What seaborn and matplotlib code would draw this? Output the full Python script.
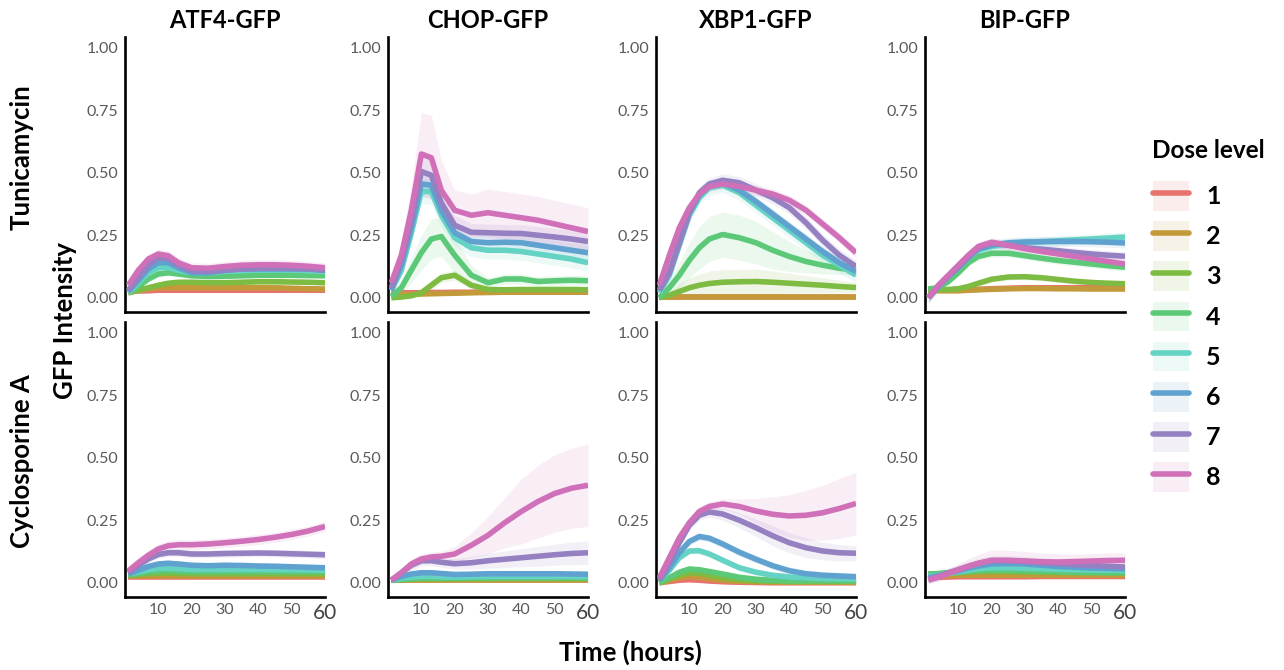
import numpy as np
import pandas as pd
import matplotlib
matplotlib.use("Agg")
import matplotlib.pyplot as plt
import seaborn as sns
from matplotlib.patches import Patch
from matplotlib.lines import Line2D

sns.set_theme(style="white")
plt.rcParams["font.family"] = ["Lato", "DejaVu Sans"]
plt.rcParams["text.color"] = "black"

# ---------------- data ----------------
TIME = [1, 4, 7, 10, 13, 16, 20, 25, 30, 35, 40, 45, 50, 55, 60]
GENES = ["ATF4-GFP", "CHOP-GFP", "XBP1-GFP", "BIP-GFP"]
TREATMENTS = ["Tunicamycin", "Cyclosporine A"]
DOSES = [1, 2, 3, 4, 5, 6, 7, 8]
COLORS = ["#E8736E", "#C39A3A", "#7DBB42", "#5CC978", "#64D3C4",
          "#5FA2D0", "#9580C2", "#D070B8"]
X_TICKS = [10, 20, 30, 40, 50, 60]
Y_TICKS = [0.0, 0.25, 0.5, 0.75, 1.0]
Y_TICK_LABELS = ["0.00", "0.25", "0.50", "0.75", "1.00"]

# mean curves (one list per dose 1..8)
ATF4_TUN = [
    [0.025, 0.027, 0.028, 0.03, 0.03, 0.03, 0.03, 0.03, 0.03, 0.03, 0.03, 0.03, 0.03, 0.03, 0.03],
    [0.02, 0.03, 0.035, 0.04, 0.04, 0.04, 0.04, 0.04, 0.04, 0.04, 0.04, 0.04, 0.038, 0.036, 0.035],
    [0.02, 0.03, 0.04, 0.05, 0.058, 0.062, 0.062, 0.06, 0.06, 0.062, 0.064, 0.064, 0.063, 0.062, 0.06],
    [0.02, 0.045, 0.075, 0.095, 0.1, 0.095, 0.088, 0.085, 0.086, 0.088, 0.09, 0.09, 0.09, 0.089, 0.088],
    [0.02, 0.06, 0.1, 0.12, 0.12, 0.11, 0.1, 0.1, 0.105, 0.108, 0.11, 0.11, 0.11, 0.108, 0.105],
    [0.025, 0.07, 0.115, 0.14, 0.14, 0.12, 0.1, 0.1, 0.11, 0.115, 0.115, 0.115, 0.115, 0.115, 0.11],
    [0.03, 0.08, 0.13, 0.16, 0.155, 0.13, 0.108, 0.105, 0.11, 0.115, 0.118, 0.118, 0.118, 0.115, 0.11],
    [0.05, 0.11, 0.155, 0.175, 0.168, 0.14, 0.12, 0.118, 0.125, 0.13, 0.132, 0.132, 0.13, 0.126, 0.12],
]
CHOP_TUN = [
    [0.02, 0.02, 0.02, 0.02, 0.021, 0.021, 0.022, 0.022, 0.023, 0.023, 0.024, 0.024, 0.025, 0.025, 0.025],
    [0.012, 0.013, 0.014, 0.015, 0.016, 0.017, 0.018, 0.02, 0.021, 0.022, 0.022, 0.022, 0.022, 0.022, 0.022],
    [0.0, 0.003, 0.008, 0.02, 0.05, 0.08, 0.09, 0.05, 0.033, 0.032, 0.033, 0.033, 0.033, 0.033, 0.032],
    [0.005, 0.04, 0.11, 0.18, 0.235, 0.245, 0.17, 0.09, 0.06, 0.075, 0.075, 0.065, 0.068, 0.07, 0.068],
    [0.03, 0.11, 0.26, 0.425, 0.425, 0.33, 0.24, 0.2, 0.19, 0.19, 0.185, 0.175, 0.165, 0.155, 0.14],
    [0.03, 0.13, 0.28, 0.455, 0.45, 0.35, 0.26, 0.225, 0.22, 0.222, 0.22, 0.21, 0.2, 0.19, 0.18],
    [0.04, 0.15, 0.31, 0.505, 0.49, 0.38, 0.29, 0.262, 0.26, 0.258, 0.257, 0.25, 0.243, 0.235, 0.225],
    [0.06, 0.17, 0.35, 0.575, 0.56, 0.43, 0.35, 0.33, 0.34, 0.33, 0.32, 0.31, 0.295, 0.28, 0.265],
]
XBP1_TUN = [
    [0.002] * 15,
    [0.003] * 15,
    [0.0, 0.01, 0.025, 0.04, 0.05, 0.057, 0.062, 0.064, 0.065, 0.062, 0.058, 0.054, 0.05, 0.045, 0.041],
    [0.0, 0.04, 0.09, 0.15, 0.2, 0.235, 0.253, 0.24, 0.22, 0.19, 0.165, 0.145, 0.13, 0.118, 0.11],
    [0.02, 0.09, 0.21, 0.33, 0.4, 0.44, 0.45, 0.42, 0.37, 0.32, 0.27, 0.22, 0.17, 0.13, 0.09],
    [0.03, 0.1, 0.22, 0.34, 0.41, 0.45, 0.46, 0.43, 0.385, 0.335, 0.285, 0.235, 0.185, 0.14, 0.105],
    [0.03, 0.1, 0.22, 0.34, 0.42, 0.455, 0.47, 0.46, 0.43, 0.4, 0.36, 0.3, 0.23, 0.17, 0.125],
    [0.05, 0.17, 0.28, 0.36, 0.415, 0.445, 0.455, 0.445, 0.43, 0.415, 0.39, 0.35, 0.295, 0.24, 0.18],
]
BIP_TUN = [
    [0.03, 0.03, 0.03, 0.03, 0.032, 0.034, 0.036, 0.038, 0.04, 0.04, 0.04, 0.04, 0.04, 0.04, 0.04],
    [0.03, 0.028, 0.028, 0.028, 0.03, 0.032, 0.034, 0.036, 0.037, 0.037, 0.036, 0.036, 0.035, 0.035, 0.035],
    [0.035, 0.033, 0.033, 0.036, 0.045, 0.058, 0.074, 0.083, 0.084, 0.08, 0.073, 0.066, 0.061, 0.058, 0.056],
    [0.035, 0.04, 0.065, 0.1, 0.14, 0.165, 0.178, 0.178, 0.168, 0.158, 0.149, 0.142, 0.135, 0.128, 0.122],
    [0.0, 0.045, 0.085, 0.12, 0.16, 0.19, 0.205, 0.215, 0.222, 0.225, 0.228, 0.232, 0.235, 0.239, 0.243],
    [0.0, 0.045, 0.085, 0.12, 0.16, 0.195, 0.21, 0.22, 0.223, 0.224, 0.225, 0.225, 0.224, 0.222, 0.219],
    [0.0, 0.045, 0.085, 0.125, 0.165, 0.2, 0.218, 0.21, 0.2, 0.194, 0.188, 0.181, 0.175, 0.17, 0.166],
    [0.0, 0.05, 0.09, 0.13, 0.17, 0.205, 0.222, 0.21, 0.196, 0.185, 0.175, 0.165, 0.155, 0.145, 0.135],
]
ATF4_CSA = [
    [0.025] * 15,
    [0.028] * 15,
    [0.03, 0.033, 0.036, 0.038, 0.038, 0.037, 0.036, 0.036, 0.036, 0.036, 0.036, 0.036, 0.036, 0.036, 0.036],
    [0.03, 0.037, 0.043, 0.047, 0.048, 0.046, 0.044, 0.044, 0.044, 0.044, 0.044, 0.044, 0.044, 0.044, 0.044],
    [0.035, 0.043, 0.052, 0.058, 0.058, 0.056, 0.053, 0.053, 0.053, 0.053, 0.053, 0.052, 0.052, 0.051, 0.05],
    [0.035, 0.05, 0.065, 0.075, 0.078, 0.075, 0.07, 0.068, 0.07, 0.069, 0.067, 0.066, 0.064, 0.062, 0.06],
    [0.04, 0.07, 0.095, 0.113, 0.12, 0.12, 0.115, 0.115, 0.117, 0.118, 0.119, 0.118, 0.116, 0.114, 0.112],
    [0.047, 0.08, 0.11, 0.135, 0.148, 0.152, 0.152, 0.155, 0.16, 0.166, 0.173, 0.182, 0.193, 0.207, 0.225],
]
CHOP_CSA = [
    [0.01] * 15,
    [0.012] * 15,
    [0.01, 0.012, 0.014, 0.015, 0.015, 0.015, 0.015, 0.016, 0.016, 0.016, 0.016, 0.016, 0.016, 0.016, 0.016],
    [0.01, 0.013, 0.016, 0.018, 0.018, 0.018, 0.018, 0.019, 0.02, 0.02, 0.02, 0.02, 0.02, 0.02, 0.02],
    [0.012, 0.018, 0.022, 0.025, 0.025, 0.024, 0.023, 0.024, 0.025, 0.025, 0.025, 0.025, 0.025, 0.025, 0.024],
    [0.012, 0.025, 0.035, 0.04, 0.04, 0.037, 0.033, 0.034, 0.036, 0.036, 0.036, 0.036, 0.036, 0.035, 0.034],
    [0.01, 0.04, 0.07, 0.088, 0.088, 0.082, 0.076, 0.08, 0.088, 0.094, 0.1, 0.106, 0.112, 0.117, 0.12],
    [0.01, 0.04, 0.075, 0.095, 0.103, 0.106, 0.115, 0.15, 0.19, 0.24, 0.285, 0.325, 0.357, 0.378, 0.39],
]
XBP1_CSA = [
    [0.0, 0.005, 0.01, 0.012, 0.01, 0.007, 0.004, 0.002, 0.001, 0.0, 0.0, 0.0, 0.0, 0.0, 0.0],
    [0.0, 0.01, 0.02, 0.025, 0.022, 0.016, 0.01, 0.006, 0.004, 0.003, 0.002, 0.002, 0.002, 0.002, 0.002],
    [0.0, 0.015, 0.03, 0.04, 0.038, 0.03, 0.02, 0.012, 0.008, 0.006, 0.005, 0.005, 0.005, 0.005, 0.005],
    [0.0, 0.02, 0.042, 0.055, 0.052, 0.045, 0.035, 0.022, 0.014, 0.01, 0.008, 0.008, 0.008, 0.008, 0.008],
    [0.01, 0.05, 0.1, 0.127, 0.128, 0.115, 0.09, 0.06, 0.042, 0.03, 0.023, 0.02, 0.017, 0.016, 0.015],
    [0.01, 0.06, 0.12, 0.165, 0.185, 0.178, 0.155, 0.122, 0.094, 0.068, 0.048, 0.036, 0.03, 0.027, 0.024],
    [0.01, 0.08, 0.16, 0.23, 0.27, 0.283, 0.275, 0.25, 0.22, 0.188, 0.16, 0.14, 0.127, 0.12, 0.118],
    [0.02, 0.1, 0.18, 0.24, 0.285, 0.305, 0.315, 0.305, 0.287, 0.274, 0.267, 0.27, 0.28, 0.297, 0.317],
]
BIP_CSA = [
    [0.02, 0.022, 0.023, 0.024, 0.024, 0.024, 0.024, 0.024, 0.024, 0.025, 0.025, 0.025, 0.025, 0.025, 0.025],
    [0.025, 0.027, 0.028, 0.03, 0.03, 0.03, 0.03, 0.03, 0.03, 0.03, 0.03, 0.03, 0.03, 0.03, 0.03],
    [0.035, 0.036, 0.038, 0.04, 0.042, 0.044, 0.045, 0.044, 0.043, 0.042, 0.041, 0.04, 0.04, 0.04, 0.04],
    [0.035, 0.037, 0.04, 0.043, 0.046, 0.049, 0.05, 0.05, 0.048, 0.046, 0.044, 0.042, 0.041, 0.04, 0.04],
    [0.025, 0.03, 0.037, 0.043, 0.05, 0.056, 0.06, 0.06, 0.058, 0.056, 0.054, 0.052, 0.051, 0.05, 0.05],
    [0.02, 0.028, 0.038, 0.048, 0.058, 0.067, 0.075, 0.077, 0.075, 0.07, 0.065, 0.062, 0.059, 0.057, 0.055],
    [0.015, 0.026, 0.04, 0.052, 0.065, 0.077, 0.088, 0.088, 0.085, 0.08, 0.076, 0.072, 0.069, 0.066, 0.063],
    [0.01, 0.022, 0.037, 0.052, 0.066, 0.078, 0.09, 0.09, 0.087, 0.084, 0.083, 0.085, 0.087, 0.089, 0.09],
]

# ribbon half-widths (scalar or one list per dose 1..8)
ATF4_TUN_SE = [0.008, 0.008, 0.01, 0.012, 0.012, 0.015, 0.018, 0.02]
CHOP_TUN_SE = [
    0.008, 0.008,
    [0.01, 0.01, 0.01, 0.015, 0.02, 0.02, 0.02, 0.015, 0.01, 0.01, 0.01, 0.01, 0.01, 0.01, 0.01],
    [0.01, 0.03, 0.05, 0.07, 0.08, 0.08, 0.07, 0.04, 0.02, 0.02, 0.02, 0.02, 0.02, 0.02, 0.02],
    [0.02, 0.03, 0.04, 0.05, 0.05, 0.045, 0.035, 0.035, 0.035, 0.035, 0.035, 0.035, 0.035, 0.035, 0.035],
    [0.02, 0.03, 0.04, 0.05, 0.05, 0.04, 0.03, 0.03, 0.03, 0.03, 0.03, 0.03, 0.03, 0.03, 0.03],
    [0.02, 0.04, 0.06, 0.08, 0.08, 0.06, 0.04, 0.035, 0.035, 0.035, 0.035, 0.035, 0.035, 0.035, 0.035],
    [0.02, 0.05, 0.1, 0.165, 0.17, 0.12, 0.08, 0.085, 0.095, 0.095, 0.095, 0.095, 0.095, 0.095, 0.095],
]
XBP1_TUN_SE = [
    0.005, 0.005,
    [0.005, 0.015, 0.03, 0.04, 0.045, 0.05, 0.05, 0.05, 0.05, 0.045, 0.04, 0.035, 0.03, 0.025, 0.02],
    [0.01, 0.03, 0.05, 0.07, 0.085, 0.09, 0.09, 0.09, 0.085, 0.075, 0.06, 0.045, 0.035, 0.025, 0.02],
    0.03, 0.02, 0.025, 0.02,
]
BIP_TUN_SE = [0.01, 0.01, 0.012, 0.015, 0.02, 0.02, 0.018, 0.018]
ATF4_CSA_SE = [0.008, 0.008, 0.01, 0.01, 0.012, 0.012, 0.015, 0.02]
CHOP_CSA_SE = [
    0.008, 0.008, 0.008, 0.008, 0.01, 0.012,
    [0.01, 0.015, 0.02, 0.02, 0.02, 0.02, 0.02, 0.025, 0.03, 0.033, 0.036, 0.04, 0.042, 0.045, 0.047],
    [0.01, 0.015, 0.02, 0.02, 0.02, 0.02, 0.03, 0.05, 0.075, 0.1, 0.13, 0.145, 0.155, 0.16, 0.165],
]
XBP1_CSA_SE = [
    0.008, 0.008, 0.01, 0.012, 0.012, 0.015,
    [0.01, 0.015, 0.02, 0.02, 0.02, 0.02, 0.025, 0.03, 0.035, 0.04, 0.04, 0.04, 0.035, 0.033, 0.03],
    [0.01, 0.015, 0.02, 0.02, 0.02, 0.02, 0.02, 0.03, 0.05, 0.07, 0.085, 0.1, 0.11, 0.12, 0.125],
]
BIP_CSA_SE = [
    0.008, 0.008, 0.01, 0.012, 0.015, 0.015, 0.02,
    [0.01, 0.015, 0.02, 0.025, 0.03, 0.035, 0.04, 0.04, 0.038, 0.035, 0.032, 0.03, 0.03, 0.03, 0.03],
]

PANELS = {
    ("Tunicamycin", "ATF4-GFP"): (ATF4_TUN, ATF4_TUN_SE),
    ("Tunicamycin", "CHOP-GFP"): (CHOP_TUN, CHOP_TUN_SE),
    ("Tunicamycin", "XBP1-GFP"): (XBP1_TUN, XBP1_TUN_SE),
    ("Tunicamycin", "BIP-GFP"): (BIP_TUN, BIP_TUN_SE),
    ("Cyclosporine A", "ATF4-GFP"): (ATF4_CSA, ATF4_CSA_SE),
    ("Cyclosporine A", "CHOP-GFP"): (CHOP_CSA, CHOP_CSA_SE),
    ("Cyclosporine A", "XBP1-GFP"): (XBP1_CSA, XBP1_CSA_SE),
    ("Cyclosporine A", "BIP-GFP"): (BIP_CSA, BIP_CSA_SE),
}

rows = []
for (trt, gene), (means, ses) in PANELS.items():
    for dose, m, se in zip(DOSES, means, ses):
        se_arr = np.broadcast_to(np.asarray(se, dtype=float), (len(TIME),))
        for t, v, s in zip(TIME, m, se_arr):
            rows.append(dict(treatment=trt, gene=gene, dose=dose, time=t,
                             value=v, lo=v - s, hi=v + s))
df = pd.DataFrame(rows)
palette = dict(zip(DOSES, COLORS))

# ---------------- layout ----------------
W, H = 1284, 670
fig = plt.figure(figsize=(W / 100, H / 100), dpi=100)


def px_axes(left, top, width, height):
    return fig.add_axes([left / W, 1 - (top + height) / H, width / W, height / H])


LEFTS = [125, 388, 656, 925]
TOPS = [36.5, 321.5]
AW, AH = 200, 275
TICK_COLOR = "#5a5a5a"
LW = 4.0

for r, trt in enumerate(TREATMENTS):
    for c, gene in enumerate(GENES):
        ax = px_axes(LEFTS[c], TOPS[r], AW, AH)
        sub = df[(df.treatment == trt) & (df.gene == gene)]
        for dose in DOSES:
            d = sub[sub.dose == dose]
            ax.fill_between(d.time, d.lo, d.hi, color=palette[dose], alpha=0.12,
                            lw=0, zorder=1)
        sns.lineplot(data=sub, x="time", y="value", hue="dose", palette=palette,
                     estimator=None, sort=True, legend=False, ax=ax, lw=LW,
                     solid_joinstyle="round", solid_capstyle="butt", zorder=3)
        ax.set_xlim(0, 60)
        ax.set_ylim(-0.055, 1.045)
        ax.set_xticks(X_TICKS)
        ax.set_yticks(Y_TICKS)
        ax.set_yticklabels(Y_TICK_LABELS)
        ax.set_xlabel("")
        ax.set_ylabel("")
        for side in ("top", "right"):
            ax.spines[side].set_visible(False)
        for side in ("left", "bottom"):
            ax.spines[side].set_color("black")
            ax.spines[side].set_linewidth(1.9)
        ax.tick_params(axis="both", which="major", direction="out", length=3,
                       width=1.2, color="#333333", labelsize=11.5,
                       labelcolor=TICK_COLOR, pad=2)
        if r == 0:
            ax.tick_params(axis="x", labelbottom=False)
            ax.set_title(gene, fontsize=17, fontweight="bold", pad=6,
                         color="black")
        else:
            lbls = ax.get_xticklabels()
            lbls[-1].set_fontsize(15)
            lbls[-1].set_color("#444444")
        ax.set_facecolor("white")
        ax.grid(False)

# row / axis labels
LABEL_SIZE = 18.5
fig.text(22 / W, 1 - 157 / H, "Tunicamycin", rotation=90, ha="center",
         va="center", fontsize=LABEL_SIZE, fontweight="bold")
fig.text(22 / W, 1 - 461 / H, "Cyclosporine A", rotation=90, ha="center",
         va="center", fontsize=LABEL_SIZE, fontweight="bold")
fig.text(65 / W, 1 - 320 / H, "GFP Intensity", rotation=90, ha="center",
         va="center", fontsize=LABEL_SIZE, fontweight="bold")
fig.text(630 / W, 1 - 652 / H, "Time (hours)", ha="center", va="center",
         fontsize=LABEL_SIZE, fontweight="bold")

# legend
handles = [(Patch(facecolor=col, alpha=0.12, edgecolor="none"),
            Line2D([], [], color=col, lw=LW)) for col in COLORS]
leg = fig.legend(handles, [str(d) for d in DOSES], title="Dose level",
                 loc="upper left", bbox_to_anchor=(1135 / W, 1 - 121 / H),
                 frameon=False, prop={"weight": "bold", "size": 18},
                 title_fontproperties={"weight": "bold", "size": 17.5},
                 handlelength=1.45, handleheight=1.45, labelspacing=0.42,
                 handletextpad=0.7, alignment="left", borderpad=0.2)
leg._legend_box.sep = 14
leg.get_title().set_color("black")
for txt in leg.get_texts():
    txt.set_color("black")

fig.savefig("out.png", dpi=100, facecolor="white")
